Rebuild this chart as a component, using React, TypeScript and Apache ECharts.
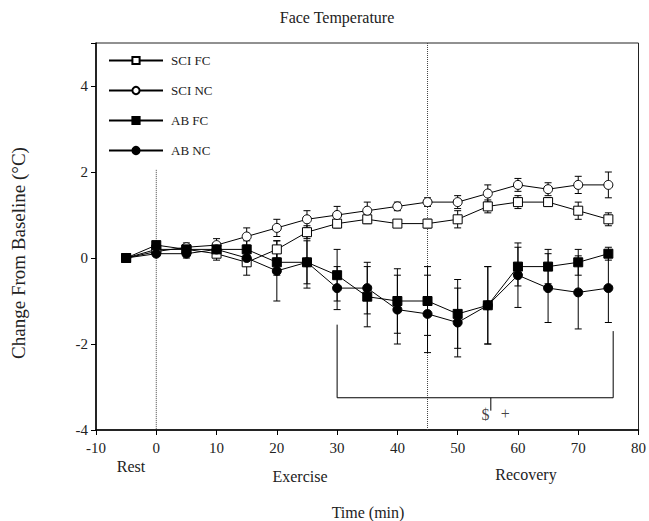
import React, { useEffect, useRef } from "react";
import * as echarts from "echarts";

const times = [-5, 0, 5, 10, 15, 20, 25, 30, 35, 40, 45, 50, 55, 60, 65, 70, 75];
const sciFC = [0, 0.2, 0.2, 0.1, -0.1, 0.2, 0.6, 0.8, 0.9, 0.8, 0.8, 0.9, 1.2, 1.3, 1.3, 1.1, 0.9];
const sciFCErr = [0, 0.05, 0.1, 0.15, 0.3, 0.2, 0.15, 0.1, 0.1, 0.05, 0.1, 0.2, 0.15, 0.15, 0.1, 0.2, 0.15];
const sciNC = [0, 0.15, 0.25, 0.3, 0.5, 0.7, 0.9, 1.0, 1.1, 1.2, 1.3, 1.3, 1.5, 1.7, 1.6, 1.7, 1.7];
const sciNCErr = [0, 0.05, 0.1, 0.15, 0.2, 0.2, 0.2, 0.2, 0.2, 0.1, 0.1, 0.15, 0.2, 0.15, 0.15, 0.2, 0.3];
const abFC = [0, 0.3, 0.2, 0.2, 0.2, -0.1, -0.1, -0.4, -0.9, -1.0, -1.0, -1.3, -1.1, -0.2, -0.2, -0.1, 0.1];
const abFCErr = [0, 0.05, 0.1, 0.1, 0.2, 0.3, 0.5, 0.6, 0.7, 0.75, 0.8, 0.8, 0.9, 0.45, 0.4, 0.3, 0.15];
const abNC = [0, 0.1, 0.1, 0.2, 0.0, -0.3, -0.1, -0.7, -0.7, -1.2, -1.3, -1.5, -1.1, -0.4, -0.7, -0.8, -0.7];
const abNCErr = [0, 0.05, 0.1, 0.15, 0.15, 0.7, 0.6, 0.5, 0.6, 0.8, 0.9, 0.8, 0.9, 0.75, 0.8, 0.85, 0.8];

const seriesNames = ["SCI FC", "SCI NC", "AB FC", "AB NC"];

// annotation geometry in data units
const bracket = [[30, -1.55], [30, -3.25], [75.8, -3.25], [75.8, -1.7]];
const bracketTick = [[55.5, -3.25], [55.5, -3.55]];
const sigMarks = [
  { x: 54.6, y: -3.65, text: "$" },
  { x: 57.9, y: -3.62, text: "+" },
];
const dotLine0 = [[0, 2.05], [0, -4]];
const dotLine45 = [[45, 5], [45, -4]];

const FONT = "Liberation Serif";
const TXT = "#222";

export default function App() {
  const ref = useRef<HTMLDivElement>(null);
  useEffect(() => {
    if (!ref.current) return;
    const chart = echarts.init(ref.current, null, { renderer: "svg" });

    const mkLine = (name: string, vals: number[], symbol: string, filled: boolean) => ({
      name,
      type: "line",
      data: times.map((t, i) => [t, vals[i]]),
      symbol,
      symbolSize: 9,
      showSymbol: true,
      z: 3,
      lineStyle: { color: "#000", width: 1 },
      itemStyle: {
        color: filled ? "#000" : "#fff",
        borderColor: "#000",
        borderWidth: 1,
      },
      silent: true,
    });

    const mkErr = (vals: number[], errs: number[]) => ({
      type: "custom",
      z: 1,
      silent: true,
      data: times.map((t, i) => [t, vals[i], errs[i]]),
      encode: { x: 0, y: 1 },
      renderItem: (params: any, api: any) => {
        const x = api.value(0);
        const y = api.value(1);
        const e = api.value(2);
        if (!e) return { type: "group", children: [] };
        const top = api.coord([x, y + e]);
        const bot = api.coord([x, y - e]);
        const hw = 3.5;
        const st = { stroke: "#000", lineWidth: 1 };
        return {
          type: "group",
          children: [
            { type: "line", shape: { x1: top[0], y1: top[1], x2: bot[0], y2: bot[1] }, style: st },
            { type: "line", shape: { x1: top[0] - hw, y1: top[1], x2: top[0] + hw, y2: top[1] }, style: st },
            { type: "line", shape: { x1: bot[0] - hw, y1: bot[1], x2: bot[0] + hw, y2: bot[1] }, style: st },
          ],
        };
      },
    });

    const plainLine = (data: number[][], dotted: boolean, color = "#000") => ({
      type: "line",
      data,
      symbol: "none",
      silent: true,
      z: 0,
      lineStyle: { color, width: 1, type: dotted ? "dotted" : "solid" },
    });

    const txt = (text: string, x: number, y: number, size = 16, rotation = 0) => ({
      type: "text",
      x,
      y,
      rotation,
      style: { text, fontFamily: FONT, fontSize: size, fill: TXT, align: "center", verticalAlign: "middle" },
    });

    const option: any = {
      animation: false,
      grid: {
        left: 96,
        right: 7,
        top: 43,
        bottom: 91,
        show: true,
        borderColor: "#222",
        borderWidth: 1,
      },
      legend: {
        data: seriesNames,
        orient: "vertical",
        left: 103,
        top: 49,
        itemWidth: 54,
        itemHeight: 9,
        itemGap: 17,
        selectedMode: false,
        textStyle: { fontFamily: FONT, fontSize: 13, color: TXT, padding: [0, 0, 0, 3] },
      },
      xAxis: {
        type: "value",
        min: -10,
        max: 80,
        interval: 10,
        splitLine: { show: false },
        axisLine: { onZero: false, lineStyle: { color: "#000", width: 1.5 } },
        axisTick: { lineStyle: { color: "#000" }, length: 5 },
        axisLabel: { fontFamily: FONT, fontSize: 15, color: TXT, margin: 10 },
      },
      yAxis: {
        type: "value",
        min: -4,
        max: 5,
        interval: 2,
        splitLine: { show: false },
        axisLine: { onZero: false, lineStyle: { color: "#000", width: 1.5 } },
        axisTick: { lineStyle: { color: "#000" }, length: 5 },
        axisLabel: {
          fontFamily: FONT,
          fontSize: 15,
          color: TXT,
          margin: 8,
          formatter: (v: number) => (v === 5 ? "" : String(v)),
        },
      },
      graphic: [
        txt("Face Temperature", 337, 17),
        txt("Change From Baseline (°C)", 18, 253, 19, Math.PI / 2),
        txt("Rest", 131, 466),
        txt("Exercise", 300, 476),
        txt("Recovery", 526, 474),
        txt("Time (min)", 368, 512),
      ],
      series: [
        plainLine(dotLine0, true, "#444"),
        plainLine(dotLine45, true, "#444"),
        plainLine(bracket, false),
        plainLine(bracketTick, false),
        {
          type: "scatter",
          silent: true,
          symbolSize: 0,
          data: sigMarks.map((m) => ({ value: [m.x, m.y], label: { formatter: m.text } })),
          label: {
            show: true,
            position: "inside",
            fontFamily: FONT,
            fontSize: 16,
            color: "#111",
          },
        },
        mkErr(sciFC, sciFCErr),
        mkErr(sciNC, sciNCErr),
        mkErr(abFC, abFCErr),
        mkErr(abNC, abNCErr),
        mkLine("SCI FC", sciFC, "rect", false),
        mkLine("SCI NC", sciNC, "circle", false),
        mkLine("AB FC", abFC, "rect", true),
        mkLine("AB NC", abNC, "circle", true),
      ],
    };
    chart.setOption(option);
    return () => chart.dispose();
  }, []);
  return (
    <div
      ref={ref}
      style={{ position: "fixed", left: 0, top: 0, width: 649, height: 521, background: "#fff" }}
    />
  );
}
